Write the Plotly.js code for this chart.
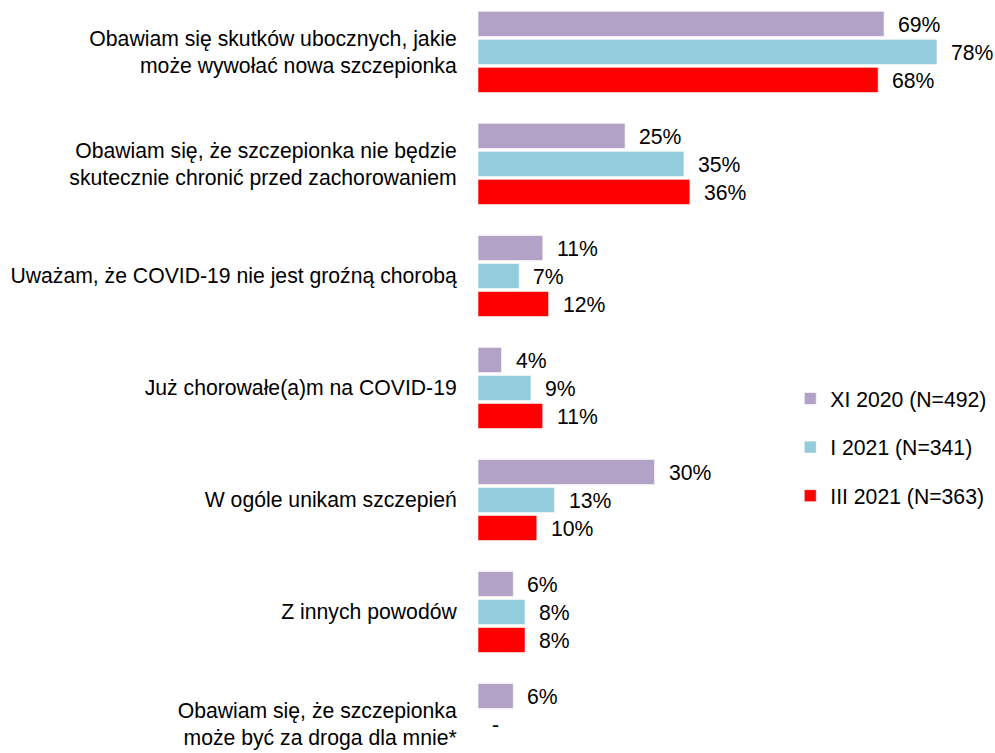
<!DOCTYPE html>
<html>
<head>
<meta charset="utf-8">
<script src="https://cdn.plot.ly/plotly-3.0.1.min.js"></script>
<style>html,body{margin:0;padding:0;background:#fff;}#chart{width:995px;height:753px;}</style>
</head>
<body>
<div id="chart"></div>
<script>
const categories = [
  "Obawiam się skutków ubocznych, jakie<br>może wywołać nowa szczepionka",
  "Obawiam się, że szczepionka nie będzie<br>skutecznie chronić przed zachorowaniem",
  "Uważam, że COVID-19 nie jest groźną chorobą",
  "Już chorowałe(a)m na COVID-19",
  "W ogóle unikam szczepień",
  "Z innych powodów",
  "Obawiam się, że szczepionka<br>może być za droga dla mnie*"
];
const seriesNames = ["XI 2020 (N=492)", "I 2021 (N=341)", "III 2021 (N=363)"];
const xi2020  = [69, 25, 11, 4, 30, 6, 6];
const i2021   = [78, 35, 7, 9, 13, 8, null];
const iii2021 = [68, 36, 12, 11, 10, 8, null];
const missingLabels = ["", "-", ""];
const colors = ["#B3A2C7", "#93CDDD", "#FF0000"];

const allSeries = [xi2020, i2021, iii2021];
const FONT = "Arial, 'Liberation Sans', sans-serif";
const FS = 21.2;

const traces = allSeries.map((vals, i) => ({
  type: "bar",
  orientation: "h",
  name: seriesNames[i],
  x: vals,
  y: categories,
  legendgroup: "g" + i,
  marker: {color: colors[i], line: {color: "rgba(255,255,255,0.6)", width: 1}},
  hoverinfo: "skip"
}));

const annotations = [];
const yshifts = [28, 0, -28];
allSeries.forEach((vals, i) => {
  vals.forEach((v, j) => {
    const txt = (v === null) ? missingLabels[i] : v + "%";
    if (!txt) return;
    annotations.push({
      x: v === null ? 0 : v, y: categories[j], xref: "x", yref: "y",
      text: txt, showarrow: false, xanchor: "left", yanchor: "middle",
      xshift: 12, yshift: yshifts[i] - 1,
      font: {family: FONT, size: FS, color: "#000"}
    });
  });
});

const layout = {
  width: 995, height: 753,
  margin: {l: 478, r: 0, t: 0, b: 0},
  paper_bgcolor: "#fff", plot_bgcolor: "#fff",
  barmode: "group", bargap: 0.25, bargroupgap: 0.1,
  font: {family: FONT, size: FS, color: "#000"},
  xaxis: {range: [0, 87.85], showgrid: false, zeroline: false, showticklabels: false, showline: false, fixedrange: true},
  yaxis: {
    range: [6.259, -0.464], type: "category",
    showgrid: false, zeroline: false, showline: false,
    ticks: "outside", ticklen: 16, tickcolor: "rgba(0,0,0,0)",
    tickfont: {family: FONT, size: FS, color: "#000"}
  },
  showlegend: true,
  legend: {
    x: 0.604, xanchor: "left", y: 0.406, yanchor: "middle",
    traceorder: "grouped", tracegroupgap: 18,
    font: {family: FONT, size: FS, color: "#000"},
    bgcolor: "rgba(0,0,0,0)"
  },
  annotations: annotations
};

Plotly.newPlot("chart", traces, layout, {displayModeBar: false, staticPlot: true});
</script>
</body>
</html>
